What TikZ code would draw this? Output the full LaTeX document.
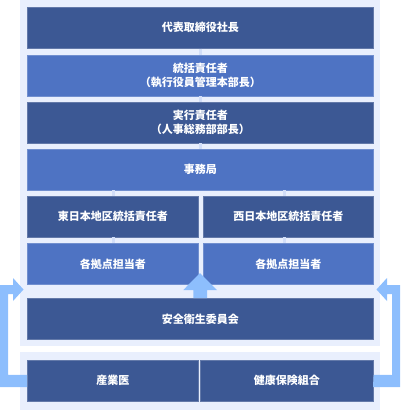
\documentclass[tikz,border=0pt]{standalone}
\usepackage{fontspec}
\newfontfamily\jp{Noto Sans CJK JP}
\definecolor{darkb}{HTML}{3C5894}
\definecolor{lightb}{HTML}{4E73C3}
\definecolor{panel}{HTML}{E9EFFD}
\definecolor{arrowc}{HTML}{8DBEFD}
\definecolor{connc}{HTML}{D2DEF8}
\begin{document}
\begin{tikzpicture}[x=1pt,y=-1pt,
  basebox/.style={anchor=north west,inner sep=0pt,minimum height=41pt,text=white,
    font=\jp\bfseries\fontsize{11}{14}\selectfont,align=center},
  dbox/.style={basebox,fill=darkb,draw=darkb!80!white,line width=0.6pt},
  lbox/.style={basebox,fill=lightb,draw=lightb!80!white,line width=0.6pt},
  conn/.style={draw=connc,line width=3pt},
  bigarrow/.style={fill=arrowc}]
\useasboundingbox (0,0) rectangle (400,410);
% panels
\fill[panel] (20,0) rectangle (380,346);
\fill[panel] (20,352) rectangle (380,410);
% boxes
\node[dbox,minimum width=346pt] (b1) at (27,7) {代表取締役社長};
\node[lbox,minimum width=346pt] (b2) at (27,54.5) {統括責任者\\（執行役員管理本部長）};
\node[dbox,minimum width=346pt] (b3) at (27,101.5) {実行責任者\\（人事総務部部長）};
\node[lbox,minimum width=346pt] (b4) at (27,148.5) {事務局};
\node[dbox,minimum width=171pt] (e1) at (27,195.5) {東日本地区統括責任者};
\node[dbox,minimum width=170pt] (w1) at (203,195.5) {西日本地区統括責任者};
\node[lbox,minimum width=171pt] (e2) at (27,243) {各拠点担当者};
\node[lbox,minimum width=170pt] (w2) at (203,243) {各拠点担当者};
\node[dbox,minimum width=346pt] (anzen) at (27,298) {安全衛生委員会};
\node[dbox,minimum width=171pt] (sangyo) at (27,360) {産業医};
\node[dbox,minimum width=173pt] (kenpo) at (200,360) {健康保険組合};
% connectors
\draw[conn] (b1.south) -- (b2.north);
\draw[conn] (b2.south) -- (b3.north);
\draw[conn] (b3.south) -- (b4.north);
\draw[conn] ([xshift=1pt]e1.north) -- ([xshift=1pt]e1.north |- b4.south);
\draw[conn] ([xshift=-4pt]w1.north) -- ([xshift=-4pt]w1.north |- b4.south);
\draw[conn] ([xshift=1pt]e1.south) -- ([xshift=1pt]e2.north);
\draw[conn] ([xshift=-4pt]w1.south) -- ([xshift=-4pt]w2.north);
% centre arrow from committee up
\fill[bigarrow] (anzen.north) ++(-7,0) -- ++(0,-8) -- ++(-10,0) -- (200,273) -- (217,290) -- (207,290) -- (anzen.north -| 207,0) -- cycle;
% left arrow from 産業医
\fill[bigarrow] (sangyo.west) ++(0,-6) -- (8,375) -- (8,294) -- (13,294) -- (13,301) -- (23.5,289.5) -- (13,278) -- (13,285) -- (0,285) -- (0,387) -- (27,387) -- cycle;
% right arrow from 健康保険組合
\fill[bigarrow] (kenpo.east) ++(0,-6) -- (392,375) -- (392,294) -- (387,294) -- (387,301) -- (376.5,289.5) -- (387,278) -- (387,285) -- (400,285) -- (400,387) -- (373,387) -- cycle;
\end{tikzpicture}
\end{document}
